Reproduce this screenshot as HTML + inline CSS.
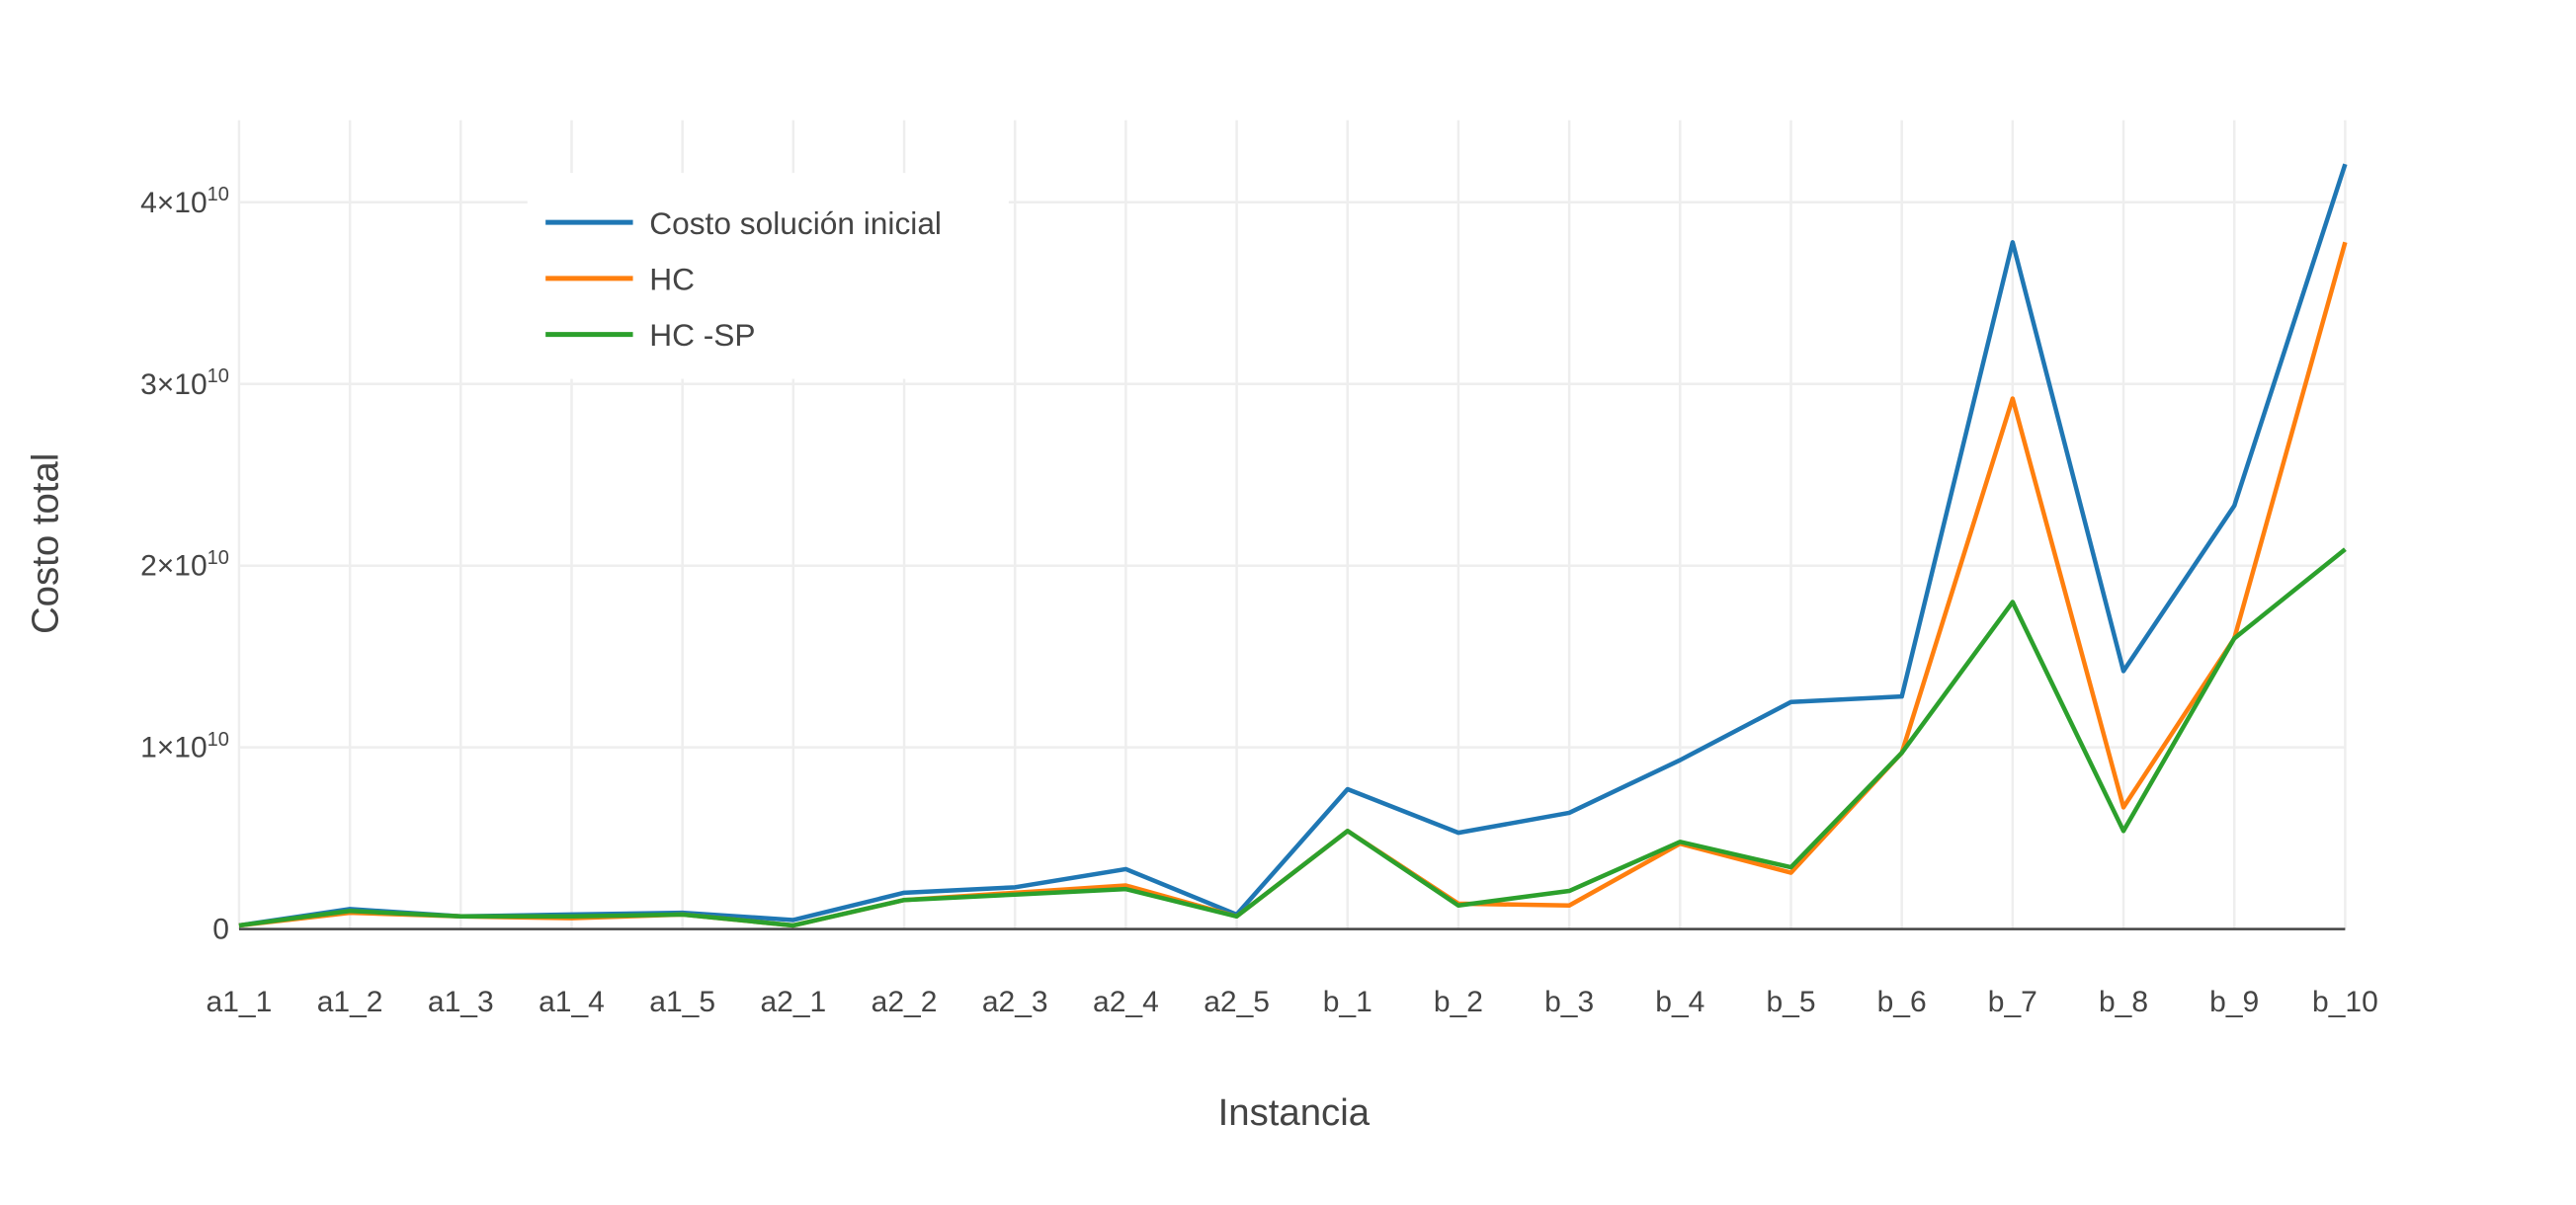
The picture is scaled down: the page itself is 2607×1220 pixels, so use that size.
<!DOCTYPE html>
<html><head><meta charset="utf-8"><style>html,body{margin:0;padding:0;background:#fff}svg{display:block}text{font-family:"Liberation Sans",sans-serif;fill:#444}</style></head>
<body>
<svg id="chart" width="2607" height="1220" viewBox="0 0 1563 731.5" xmlns="http://www.w3.org/2000/svg">
<g id="grid"></g>
<g id="lines"></g>
<g id="axes"></g>
<text x="785" y="683" font-size="23" text-anchor="middle">Instancia</text>
<text transform="translate(35,330) rotate(-90)" font-size="23" text-anchor="middle">Costo total</text>
<g id="legend"></g>
</svg>
<script>
const categories=["a1_1","a1_2","a1_3","a1_4","a1_5","a2_1","a2_2","a2_3","a2_4","a2_5","b_1","b_2","b_3","b_4","b_5","b_6","b_7","b_8","b_9","b_10"];
const seriesNames=["Costo solución inicial","HC","HC -SP"];
const seriesColors=["#1f77b4","#ff7f0e","#2ca02c"];
const initialCost=[0.02,0.11,0.07,0.08,0.09,0.05,0.20,0.23,0.33,0.08,0.77,0.53,0.64,0.93,1.25,1.28,3.78,1.42,2.33,4.21];
const hcCost=[0.02,0.09,0.07,0.06,0.08,0.02,0.16,0.20,0.24,0.07,0.54,0.14,0.13,0.47,0.31,0.97,2.92,0.67,1.60,3.78];
const hcspCost=[0.02,0.10,0.07,0.07,0.08,0.02,0.16,0.19,0.22,0.07,0.54,0.13,0.21,0.48,0.34,0.97,1.80,0.54,1.60,2.09];
const yTicks=[0,1,2,3,4];
const NS="http://www.w3.org/2000/svg";
const X0=145,X1=1423,Y0=564,PER=110.3;
const xs=i=>X0+i*(X1-X0)/(categories.length-1);
const ys=v=>Y0-v*PER;
function mk(tag,attrs,parent,txt){const e=document.createElementNS(NS,tag);for(const k in attrs)e.setAttribute(k,attrs[k]);if(txt!==undefined)e.textContent=txt;parent.appendChild(e);return e;}
const grid=document.getElementById('grid'),axes=document.getElementById('axes'),lines=document.getElementById('lines'),legend=document.getElementById('legend');
categories.forEach((c,i)=>{
 const g=mk('line',{x1:xs(i),x2:xs(i),y1:73,y2:Y0,stroke:'#eee','stroke-width':1.5},grid);
 
 
 const t=mk('text',{x:xs(i),y:614,'font-size':18,'text-anchor':'middle'},axes,c);
 
 
});
yTicks.forEach(v=>{
 if(v>0){const g=mk('line',{x1:X0,x2:X1,y1:ys(v),y2:ys(v),stroke:'#eee','stroke-width':1.5},grid);
 
 }
 const t=mk('text',{x:139,y:ys(v)+6,'font-size':18,'text-anchor':'end'},axes);
 
 
 if(v===0){t.textContent='0';}else{t.textContent=v+'×10';mk('tspan',{dy:-7,'font-size':12},t,'10');}
});
const zl=mk('line',{x1:X0,x2:X1,y1:Y0,y2:Y0,stroke:'#444','stroke-width':1.5},axes);


[initialCost,hcCost,hcspCost].forEach((arr,si)=>{
 const p=mk('polyline',{points:arr.map((v,i)=>xs(i)+','+ys(v)).join(' '),fill:'none',stroke:seriesColors[si],'stroke-width':2.7,'stroke-linejoin':'round'},lines);
 
 
});
mk('rect',{x:320,y:105,width:292,height:125,fill:'#fff'},legend);
seriesNames.forEach((n,i)=>{
 const y=135+i*34;
 const g=mk('g',{},legend);
 
 
 mk('line',{x1:331,x2:384,y1:y,y2:y,stroke:seriesColors[i],'stroke-width':3},g);
 mk('text',{x:394,y:y+7,'font-size':19},g,n);
});
</script>
</body></html>
